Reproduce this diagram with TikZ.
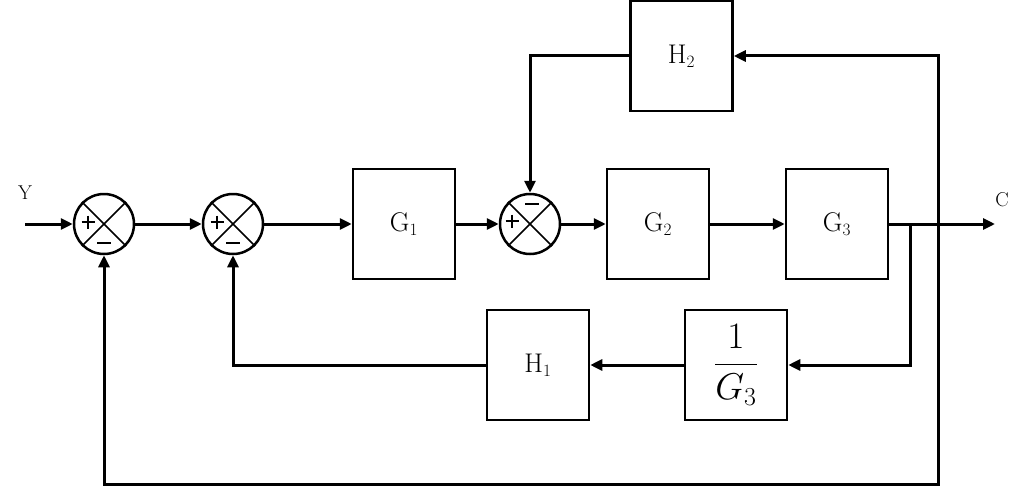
\documentclass[tikz,border=0pt]{standalone}
\usepackage{fontspec}
\usepackage{graphicx}
\usetikzlibrary{arrows.meta}
\begin{document}
\begin{tikzpicture}[x=1pt,y=-1pt,
  blk/.style={draw,line width=2.5pt,minimum width=102pt,minimum height=110pt,inner sep=0pt,font=\fontsize{27}{30}\selectfont},
  sumc/.style={draw,circle,line width=2.5pt,minimum size=60pt,inner sep=0pt},
  arr/.style={line width=3pt,-{Triangle[length=12pt,width=11pt]}},
  sgn/.style={line width=2.6pt},
  lbl/.style={font=\fontsize{20}{22}\selectfont,inner sep=0pt}]
\useasboundingbox (0,0) rectangle (1025,487);
\node[sumc] (s1) at (104,224) {};
\node[sumc] (s2) at (233,224) {};
\node[sumc] (s3) at (530,224) {};
\foreach \s in {s1,s2,s3}{
  \draw[line width=1.6pt] (\s.north west) -- (\s.south east);
  \draw[line width=1.6pt] (\s.north east) -- (\s.south west);
}
% plus / minus signs
\foreach \cx/\cy in {88/222,217/222,512/221}{
  \draw[sgn] (\cx-6.5,\cy) -- (\cx+6.5,\cy) (\cx,\cy-6.5) -- (\cx,\cy+6.5);
}
\foreach \cx/\cy in {104/243,233/243,532/204}{
  \draw[sgn] (\cx-7,\cy) -- (\cx+7,\cy);
}
\node[blk] (g1) at (404,224) {G$_1$};
\node[blk] (g2) at (658,224) {G$_2$};
\node[blk] (g3) at (837,224) {G$_3$};
\node[blk] (h2) at (681.5,56) {H$_2$};
\node[blk] (h1) at (538,365) {H$_1$};
\node[blk] (ig) at (736,365) {\scalebox{1.5}{$\displaystyle\frac{1}{G_3}$}};
\node[lbl] (y) at (25,193) {Y};
\node[lbl] (c) at (1002,200) {C};
\coordinate (in) at (25,224);
\coordinate (out) at (995,224);
\coordinate (b1) at (910,224);
\coordinate (b2) at (938,224);
\draw[arr] (in) -- (s1.west);
\draw[arr] (s1.east) -- (s2.west);
\draw[arr] (s2.east) -- (g1.west);
\draw[arr] (g1.east) -- (s3.west);
\draw[arr] (s3.east) -- (g2.west);
\draw[arr] (g2.east) -- (g3.west);
\draw[arr] (g3.east) -- (out);
\draw[arr] (b1) |- (ig.east);
\draw[arr] (ig.west) -- (h1.east);
\draw[arr] (h1.west) -| (s2.south);
\draw[arr] (b2) |- (h2.east);
\draw[arr] (h2.west) -| (s3.north);
\draw[arr] (b2) -- (938,484) -| (s1.south);
\end{tikzpicture}
\end{document}
